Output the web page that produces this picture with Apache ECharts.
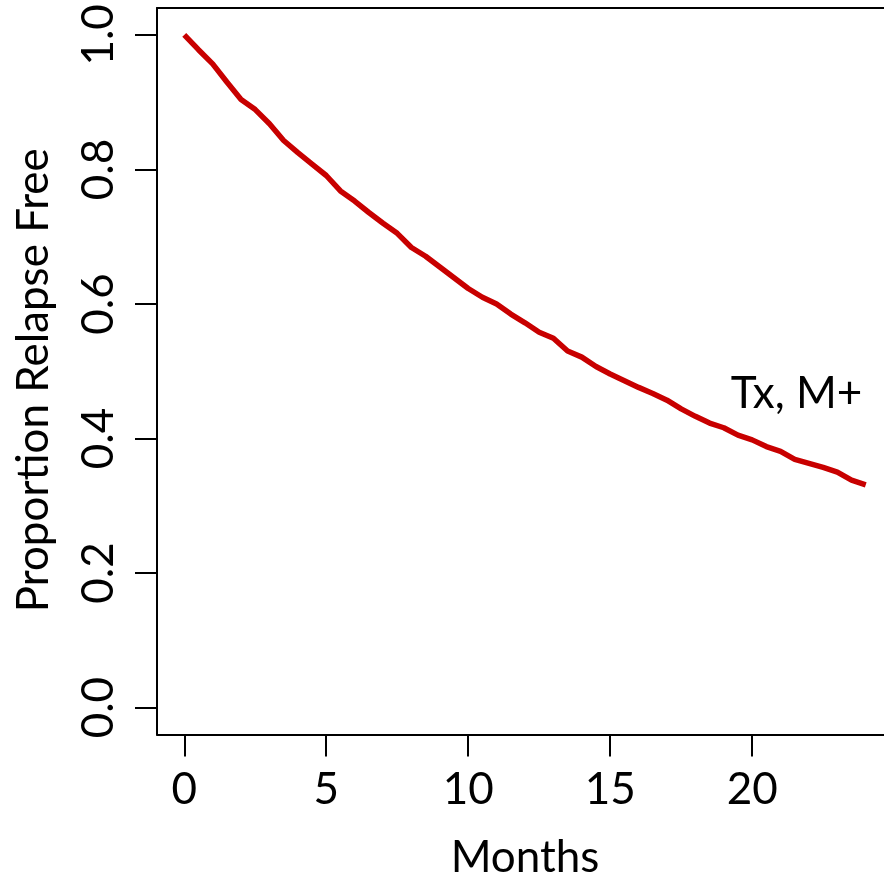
<!DOCTYPE html>
<html>
<head>
<meta charset="utf-8">
<script src="https://cdn.jsdelivr.net/npm/echarts@6/dist/echarts.min.js"></script>
<style>
html,body{margin:0;padding:0;background:#fff;}
#chart{width:884px;height:877px;}
</style>
</head>
<body>
<div id="chart"></div>
<script>
const months = [0,0.5,1,1.5,2,2.5,3,3.5,4,4.5,5,5.5,6,6.5,7,7.5,8,8.5,9,9.5,10,10.5,11,11.5,12,12.5,13,13.5,14,14.5,15,15.5,16,16.5,17,17.5,18,18.5,19,19.5,20,20.5,21,21.5,22,22.5,23,23.5,24];
const relapseFree = [1.000,0.978,0.957,0.930,0.904,0.889,0.868,0.843,0.825,0.808,0.791,0.768,0.753,0.736,0.720,0.705,0.684,0.671,0.655,0.639,0.623,0.610,0.600,0.585,0.572,0.558,0.549,0.530,0.521,0.507,0.496,0.486,0.476,0.467,0.457,0.444,0.433,0.423,0.416,0.405,0.398,0.388,0.381,0.369,0.363,0.357,0.350,0.338,0.331];
const xTicks = [0,5,10,15,20];
const yTicks = [0,0.2,0.4,0.6,0.8,1.0];
const seriesLabel = 'Tx, M+';
const labelPos = [21.56, 0.467];
const xTitle = 'Months';
const yTitle = 'Proportion Relapse Free';

const FONT = 'Lato';
const FS = 44;
const AXIS_LINE = {show:true, onZero:false, lineStyle:{color:'#000', width:2}};
const chart = echarts.init(document.getElementById('chart'), null, {renderer:'canvas'});
chart.setOption({
  animation:false,
  backgroundColor:'#fff',
  grid:{left:157, top:8, width:736, height:726.5, show:false, containLabel:false, outerBoundsMode:'none'},
  xAxis:[{
    type:'value', min:-0.96, max:24.96, position:'bottom',
    splitLine:{show:false},
    axisLine:AXIS_LINE,
    axisTick:{show:true, customValues:xTicks, length:22, inside:false, lineStyle:{color:'#000', width:2}},
    axisLabel:{show:true, customValues:xTicks, margin:32, fontFamily:FONT, fontSize:FS, lineHeight:46, color:'#000'},
    name:xTitle, nameLocation:'middle', nameGap:100,
    nameTextStyle:{fontFamily:FONT, fontSize:FS, color:'#000', lineHeight:46}
  },{
    type:'value', min:-0.96, max:24.96, position:'top',
    splitLine:{show:false}, axisLine:AXIS_LINE,
    axisTick:{show:false}, axisLabel:{show:false}
  }],
  yAxis:{
    type:'value', min:-0.04, max:1.04,
    splitLine:{show:false},
    axisLine:AXIS_LINE,
    axisTick:{show:true, customValues:yTicks, length:22, inside:false, lineStyle:{color:'#000', width:2}},
    axisLabel:{show:true, customValues:yTicks, rotate:90, margin:35, fontFamily:FONT, fontSize:FS, lineHeight:46, color:'#000',
      formatter:v=>v.toFixed(1)},
    name:yTitle, nameLocation:'middle', nameGap:100, nameRotate:90,
    nameTextStyle:{fontFamily:FONT, fontSize:FS, color:'#000', lineHeight:46, padding:[0,18,0,0]}
  },
  series:[
    {type:'line', data:months.map((m,i)=>[m,relapseFree[i]]), showSymbol:false, symbol:'none',
     lineStyle:{color:'#c80000', width:5.5}, z:3, clip:true},
    {type:'scatter', data:[labelPos], symbolSize:0, itemStyle:{opacity:1},
     label:{show:true, position:'inside', formatter:seriesLabel, fontFamily:FONT, fontSize:FS, color:'#000', opacity:1, textBorderWidth:0}}
  ]
});
</script>
</body>
</html>
